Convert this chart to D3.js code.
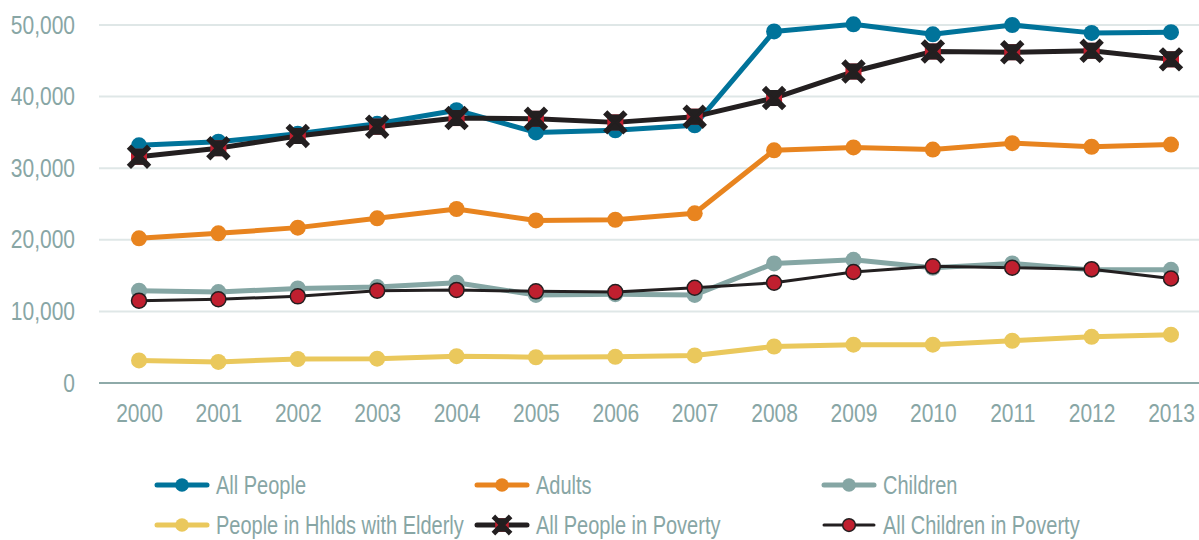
<!DOCTYPE html>
<html>
<head>
<meta charset="utf-8">
<script src="https://cdn.jsdelivr.net/npm/d3@7"></script>
<style>
  html, body { margin: 0; padding: 0; background: #fff; }
  svg text { font-family: "Liberation Sans", Arial, sans-serif; fill: #88a6a5; }
</style>
</head>
<body>
<div id="chart"></div>
<script>
const years = [2000, 2001, 2002, 2003, 2004, 2005, 2006, 2007, 2008, 2009, 2010, 2011, 2012, 2013];
const yTicks = [0, 10000, 20000, 30000, 40000, 50000];

const allPeople = [33200, 33700, 34800, 36200, 38100, 35000, 35300, 36000, 49100, 50100, 48700, 50000, 48900, 49000];
const adults = [20200, 20900, 21700, 23000, 24300, 22700, 22800, 23700, 32500, 32900, 32600, 33500, 33000, 33300];
const children = [12900, 12700, 13200, 13400, 14000, 12300, 12400, 12300, 16700, 17200, 16100, 16700, 15800, 15800];
const elderly = [3150, 2950, 3350, 3400, 3750, 3600, 3650, 3850, 5100, 5350, 5350, 5900, 6450, 6750];
const peoplePoverty = [31600, 32800, 34500, 35800, 37000, 36900, 36400, 37200, 39800, 43500, 46300, 46200, 46400, 45200];
const childPoverty = [11500, 11700, 12100, 12900, 13000, 12800, 12700, 13300, 14000, 15500, 16300, 16100, 15900, 14600];

const series = [
  { name: 'All People', values: allPeople, color: '#00739a', width: 5, marker: 'dot' },
  { name: 'Adults', values: adults, color: '#e8841f', width: 5, marker: 'dot' },
  { name: 'Children', values: children, color: '#85a6a4', width: 5, marker: 'dot' },
  { name: 'People in Hhlds with Elderly', values: elderly, color: '#eac85c', width: 5, marker: 'dot' },
  { name: 'All People in Poverty', values: peoplePoverty, color: '#231f20', width: 5, marker: 'cross' },
  { name: 'All Children in Poverty', values: childPoverty, color: '#231f20', width: 3, marker: 'redDot' }
];

const W = 1199, H = 540;
const squeeze = 'scale(0.8,1)'; // reference uses a condensed face
const axisSqueeze = 'scale(0.84,1)';
const svg = d3.select('#chart').append('svg').attr('width', W).attr('height', H);

const x = d3.scalePoint().domain(years).range([139, 1171]);
const y = d3.scaleLinear().domain([0, 50000]).range([383, 25]);

// gridlines
svg.append('g').selectAll('line')
  .data(yTicks.filter(d => d > 0))
  .enter().append('line')
  .attr('x1', 99).attr('x2', W)
  .attr('y1', d => y(d)).attr('y2', d => y(d))
  .attr('stroke', '#dfe7e7').attr('stroke-width', 2);

// base axis line
svg.append('line')
  .attr('x1', 99).attr('x2', W)
  .attr('y1', y(0)).attr('y2', y(0))
  .attr('stroke', '#8eaaa9').attr('stroke-width', 2);

// y axis labels
const yAxis = svg.append('g')
  .attr('transform', 'translate(75,0)')
  .call(d3.axisLeft(y).tickValues(yTicks).tickSize(0).tickPadding(0).tickFormat(d3.format(',')));
yAxis.select('.domain').remove();
yAxis.selectAll('text').style('font-size', '25px').attr('font-family', null).attr('transform', axisSqueeze);

// x axis labels
const xAxis = svg.append('g')
  .attr('transform', 'translate(0,404)')
  .call(d3.axisBottom(x).tickSize(0).tickPadding(0));
xAxis.select('.domain').remove();
xAxis.selectAll('text').style('font-size', '25px').attr('font-family', null).attr('transform', axisSqueeze);

const line = d3.line()
  .x((d, i) => x(years[i]))
  .y(d => y(d));

function drawMarker(g, s, cx, cy, scale) {
  const k = scale || 1;
  if (s.marker === 'dot') {
    g.append('circle').attr('cx', cx).attr('cy', cy).attr('r', 8 * k).attr('fill', s.color);
  } else if (s.marker === 'redDot') {
    g.append('circle').attr('cx', cx).attr('cy', cy).attr('r', 7.5 * k)
      .attr('fill', '#c01f2f').attr('stroke', '#231f20').attr('stroke-width', 1.5);
  } else {
    const h = 8 * k;
    g.append('rect').attr('x', cx - h).attr('y', cy - h).attr('width', 2 * h).attr('height', 2 * h).attr('fill', '#c01f2f');
    g.append('path')
      .attr('d', `M${cx - h},${cy - h}L${cx + h},${cy + h}M${cx + h},${cy - h}L${cx - h},${cy + h}`)
      .attr('stroke', '#231f20').attr('stroke-width', 6 * k).attr('stroke-linecap', 'square');
    g.append('path')
      .attr('d', `M${cx - h},${cy - h}L${cx + h},${cy - h}L${cx},${cy}Z M${cx - h},${cy + h}L${cx + h},${cy + h}L${cx},${cy}Z`)
      .attr('fill', '#231f20');
  }
}

const plot = svg.append('g');
series.forEach(s => {
  const g = plot.append('g');
  g.append('path')
    .attr('d', line(s.values))
    .attr('fill', 'none')
    .attr('stroke', s.color)
    .attr('stroke-width', s.width)
    .attr('stroke-linejoin', 'round');
  s.values.forEach((v, i) => drawMarker(g, s, x(years[i]), y(v)));
});

// legend
const legendCols = [155, 475, 822];
const legendRows = [485, 525];
const legend = svg.append('g');
series.forEach((s, i) => {
  const lx = legendCols[i % 3], ly = legendRows[Math.floor(i / 3)];
  const g = legend.append('g');
  g.append('line')
    .attr('x1', lx + 2).attr('x2', lx + 52)
    .attr('y1', ly).attr('y2', ly)
    .attr('stroke', s.color).attr('stroke-width', s.width)
    .attr('stroke-linecap', 'round');
  drawMarker(g, s, lx + 27, ly, 0.85);
  g.append('g')
    .attr('transform', `translate(${lx + 61},${ly})`)
    .append('text')
    .attr('transform', squeeze)
    .attr('dy', '0.35em')
    .style('font-size', '25px')
    .text(s.name);
});
</script>
</body>
</html>
